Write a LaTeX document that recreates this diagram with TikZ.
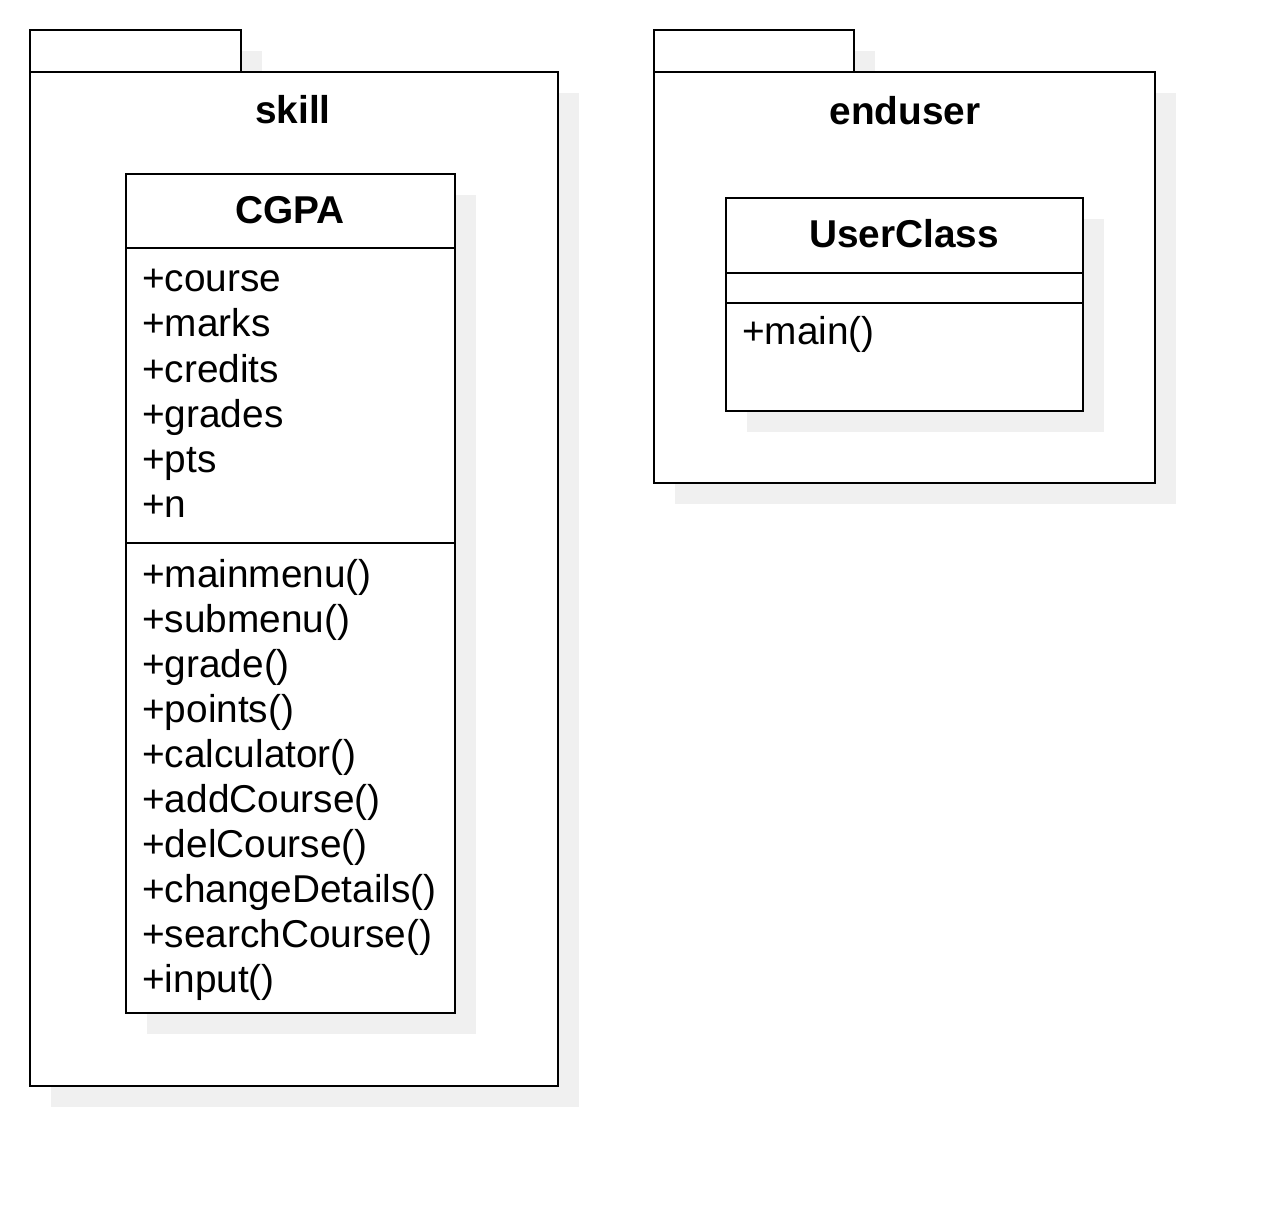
\documentclass[tikz,border=0pt]{standalone}
\usepackage{fontspec}
\setmainfont{Liberation Sans}
\definecolor{shadowgray}{HTML}{F0F0F0}
\tikzset{
  box/.style={draw=black, line width=2.8pt, fill=white},
  sepline/.style={line width=2.8pt},
  title/.style={font=\fontsize{38.8}{46}\selectfont\bfseries, inner sep=0pt, anchor=base},
  item/.style={font=\fontsize{38.8}{46}\selectfont, inner sep=0pt, anchor=base west},
}
\begin{document}
\begin{tikzpicture}[x=1pt,y=-1pt]
\useasboundingbox (0,0) rectangle (1275,1206);
% ---------- package skill ----------
\fill[shadowgray] (51,51) rectangle (262,93);
\fill[shadowgray] (51,93) rectangle (579,1107);
\draw[box] (30,30) rectangle (241,72);
\draw[box] (30,72) rectangle (558,1086);
\node[title] (skill) at (293,124) {skill};
% class CGPA
\fill[shadowgray] (147,195) rectangle (476,1034);
\draw[box] (126,174) rectangle (455,1013);
\draw[sepline] (126,248) -- (455,248);
\draw[sepline] (126,543) -- (455,543);
\node[title] (cgpa) at (290,224) {CGPA};
\node[item] (a1) at (142,292) {+course};
\node[item] (a2) at (142,337) {+marks};
\node[item] (a3) at (142,382) {+credits};
\node[item] (a4) at (142,427) {+grades};
\node[item] (a5) at (142,472) {+pts};
\node[item] (a6) at (142,517) {+n};
\node[item] (m1) at (142,587) {+mainmenu()};
\node[item] (m2) at (142,632) {+submenu()};
\node[item] (m3) at (142,677) {+grade()};
\node[item] (m4) at (142,722) {+points()};
\node[item] (m5) at (142,767) {+calculator()};
\node[item] (m6) at (142,812) {+addCourse()};
\node[item] (m7) at (142,857) {+delCourse()};
\node[item] (m8) at (142,902) {+changeDetails()};
\node[item] (m9) at (142,947) {+searchCourse()};
\node[item] (m10) at (142,992) {+input()};
% ---------- package enduser ----------
\fill[shadowgray] (675,51) rectangle (875,93);
\fill[shadowgray] (675,93) rectangle (1176,504);
\draw[box] (654,30) rectangle (854,72);
\draw[box] (654,72) rectangle (1155,483);
\node[title] (enduser) at (905,125) {enduser};
% class UserClass
\fill[shadowgray] (747,219) rectangle (1104,432);
\draw[box] (726,198) rectangle (1083,411);
\draw[sepline] (726,273) -- (1083,273);
\draw[sepline] (726,303) -- (1083,303);
\node[title] (userclass) at (904,248) {UserClass};
\node[item] (main) at (742,345) {+main()};
\end{tikzpicture}
\end{document}
